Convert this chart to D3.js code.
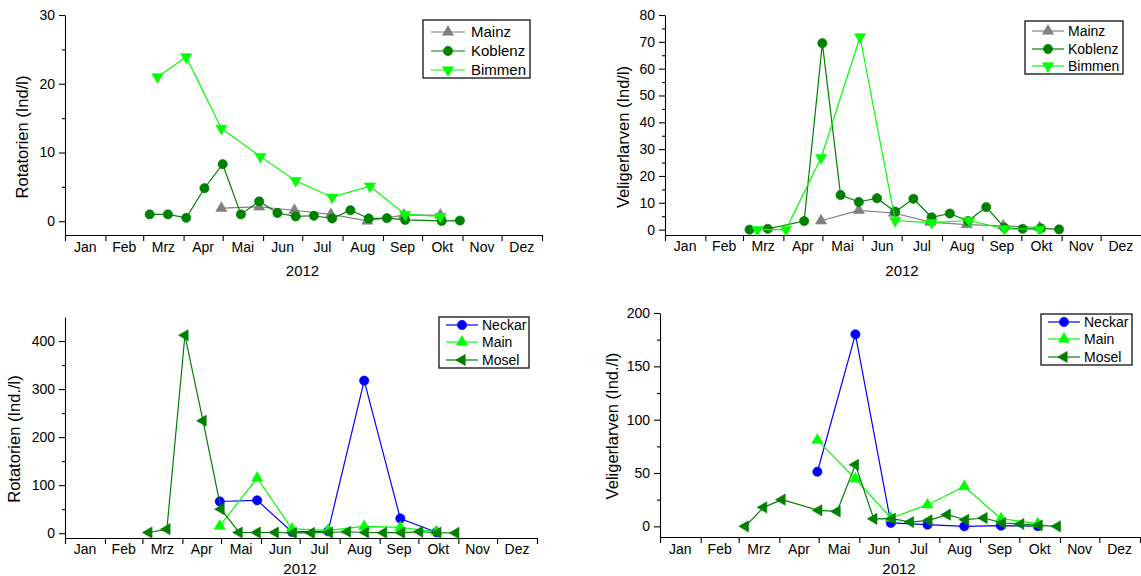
<!doctype html>
<html>
<head>
<meta charset="utf-8">
<script src="https://d3js.org/d3.v7.min.js"></script>
<style>
  body { margin: 0; background: #fff; }
  svg text { font-family: "Liberation Sans", Arial, sans-serif; fill: #000; }
</style>
</head>
<body>
<div id="chart"></div>
<script>
// ---- data ----
var monthLabels = ["Jan", "Feb", "Mrz", "Apr", "Mai", "Jun", "Jul", "Aug", "Sep", "Okt", "Nov", "Dez"];
var yearLabel = "2012";

// Rhein stations
var mainzDates = ["2012-04-30", "2012-05-29", "2012-06-25", "2012-07-23", "2012-08-20", "2012-09-17", "2012-10-15"];
var mainzRotatorien = [1.9, 2.1, 1.6, 1.0, 0.05, 0.9, 0.9];
var mainzVeliger = [3.3, 7.2, 6.2, 2.8, 1.9, 1.4, 0.8];

var koblenzRotDates = ["2012-03-06", "2012-03-20", "2012-04-03", "2012-04-17", "2012-05-01", "2012-05-15", "2012-05-29",
  "2012-06-12", "2012-06-26", "2012-07-10", "2012-07-24", "2012-08-07", "2012-08-21", "2012-09-04", "2012-09-18",
  "2012-10-16", "2012-10-30"];
var koblenzRotatorien = [1.0, 1.0, 0.5, 4.8, 8.3, 1.0, 2.9, 1.2, 0.7, 0.8, 0.4, 1.6, 0.4, 0.45, 0.2, 0.05, 0.1];

var koblenzVelDates = ["2012-03-06", "2012-03-20", "2012-04-17", "2012-05-01", "2012-05-15", "2012-05-29", "2012-06-12",
  "2012-06-26", "2012-07-10", "2012-07-24", "2012-08-07", "2012-08-21", "2012-09-04", "2012-09-18", "2012-10-02",
  "2012-10-16", "2012-10-30"];
var koblenzVeliger = [0.0, 0.3, 3.2, 69.5, 12.9, 10.3, 11.7, 6.7, 11.5, 4.6, 6.0, 3.2, 8.4, 0.7, 0.3, 0.5, 0.1];

var bimmenDates = ["2012-03-12", "2012-04-03", "2012-04-30", "2012-05-30", "2012-06-26", "2012-07-24", "2012-08-22",
  "2012-09-18", "2012-10-15"];
var bimmenRotatorien = [21.0, 23.9, 13.5, 9.4, 5.9, 3.5, 5.1, 1.0, 0.7];
var bimmenVeliger = [0.0, 0.0, 26.8, 71.8, 3.3, 2.6, 3.4, 0.3, 0.1];

// tributaries
var neckarDates = ["2012-04-30", "2012-05-29", "2012-06-25", "2012-07-23", "2012-08-20", "2012-09-17", "2012-10-15"];
var neckarRotatorien = [66, 68.5, 2.7, 4, 317.5, 30.6, 2];
var neckarVeliger = [51.2, 180, 3.2, 1.6, 0, 0.6, 0.2];
var mainRotatorien = [15, 115, 9, 6, 14, 12, 3];
var mainVeliger = [80.8, 44.6, 7.8, 20.3, 37.3, 7.2, 2.5];

var moselRotDates = ["2012-03-06", "2012-03-20", "2012-04-03", "2012-04-17", "2012-05-01", "2012-05-15", "2012-05-29",
  "2012-06-12", "2012-06-26", "2012-07-10", "2012-07-24", "2012-08-07", "2012-08-21", "2012-09-04", "2012-09-18",
  "2012-10-02", "2012-10-16", "2012-10-30"];
var moselRotatorien = [1.4, 8.3, 412, 234, 50, 1.5, 1.5, 1.5, 0.5, 0.5, 1.5, 3, 1.5, 1, 1, 3, 1, 0.5];

var moselVelDates = ["2012-03-06", "2012-03-20", "2012-04-03", "2012-05-01", "2012-05-15", "2012-05-29", "2012-06-12",
  "2012-06-26", "2012-07-10", "2012-07-24", "2012-08-07", "2012-08-21", "2012-09-04", "2012-09-18", "2012-10-02",
  "2012-10-16", "2012-10-30"];
var moselVeliger = [0, 17.8, 25, 15, 14, 57.7, 7, 7.2, 4, 5.6, 10.9, 6.2, 7.8, 3.1, 2.2, 0.9, 0];

// ---- styles ----
var styles = {
  Mainz:   { color: "#808080", shape: "up" },
  Koblenz: { color: "#008000", shape: "circle" },
  Bimmen:  { color: "#00ff00", shape: "down" },
  Neckar:  { color: "#0000ff", shape: "circle" },
  Main:    { color: "#00ff00", shape: "up" },
  Mosel:   { color: "#008000", shape: "left" }
};

var parse = d3.timeParse("%Y-%m-%d");
function zip(dates, vals) {
  return dates.map(function(d, i) { return { date: parse(d), value: vals[i] }; });
}

// ---- panel layout ----
var panels = [
  { x0: 65, x1: 542, y0: 15, y1: 235, domain: [-2, 30], major: [0, 10, 20, 30], minor: [5, 15, 25],
    title: "Rotatorien (Ind/l)", titleX: 22, titleY: 137, monthY: 247, yearY: 271,
    legend: { x: 423, y: 20, w: 107, h: 58, rows: [32, 51, 70], fs: 15, lx: 8, ll: 34, tx: 40 },
    series: [["Mainz", zip(mainzDates, mainzRotatorien)], ["Koblenz", zip(koblenzRotDates, koblenzRotatorien)], ["Bimmen", zip(bimmenDates, bimmenRotatorien)]] },
  { x0: 665, x1: 1141, y0: 15, y1: 235, domain: [-2, 80], major: d3.range(0, 81, 10), minor: d3.range(5, 80, 10),
    title: "Veligerlarven (Ind/l)", titleX: 623, titleY: 137, monthY: 246, yearY: 271,
    legend: { x: 1025, y: 21, w: 98, h: 53, rows: [31, 49, 66], fs: 14, lx: 7, ll: 32, tx: 36 },
    series: [["Mainz", zip(mainzDates, mainzVeliger)], ["Koblenz", zip(koblenzVelDates, koblenzVeliger)], ["Bimmen", zip(bimmenDates, bimmenVeliger)]] },
  { x0: 65, x1: 537, y0: 317, y1: 538, domain: [-10, 450], major: [0, 100, 200, 300, 400], minor: [50, 150, 250, 350],
    title: "Rotatorien (Ind./l)", titleX: 14, titleY: 439, monthY: 549, yearY: 569,
    legend: { x: 439, y: 317, w: 90, h: 51, rows: [325, 342, 360], fs: 14, lx: 7, ll: 32, tx: 36 },
    series: [["Neckar", zip(neckarDates, neckarRotatorien)], ["Main", zip(neckarDates, mainRotatorien)], ["Mosel", zip(moselRotDates, moselRotatorien)]] },
  { x0: 660, x1: 1140, y0: 313, y1: 537, domain: [-10, 200], major: [0, 50, 100, 150, 200], minor: [25, 75, 125, 175],
    title: "Veligerlarven (Ind./l)", titleX: 612, titleY: 426, monthY: 549, yearY: 569,
    legend: { x: 1041, y: 314, w: 91, h: 51, rows: [322, 339, 357], fs: 14, lx: 7, ll: 32, tx: 36 },
    series: [["Neckar", zip(neckarDates, neckarVeliger)], ["Main", zip(neckarDates, mainVeliger)], ["Mosel", zip(moselVelDates, moselVeliger)]] }
];

var svg = d3.select("#chart").append("svg")
  .attr("width", 1141).attr("height", 576);

var yearStart = new Date(2012, 0, 1), yearEnd = new Date(2013, 0, 1);

function marker(sel, name) {
  var st = styles[name];
  var type = st.shape === "circle" ? d3.symbolCircle : d3.symbolTriangle;
  var size = st.shape === "circle" ? 68 : 54;
  var rot = { circle: 0, up: 0, down: 180, left: -90 }[st.shape];
  sel.append("path")
    .attr("d", d3.symbol().type(type).size(size))
    .attr("transform", "rotate(" + rot + ")")
    .attr("fill", st.color)
    .attr("stroke", st.color)
    .attr("stroke-width", 0.6);
}

panels.forEach(function(p) {
  var g = svg.append("g");
  var x = d3.scaleTime().domain([yearStart, yearEnd]).range([p.x0, p.x1]);
  var y = d3.scaleLinear().domain(p.domain).range([p.y1, p.y0]);

  // x axis: month boundary ticks
  g.append("g")
    .attr("transform", "translate(0," + p.y1 + ")")
    .call(d3.axisBottom(x).tickValues(d3.timeMonth.range(yearStart, d3.timeDay.offset(yearEnd, 1)))
      .tickFormat("").tickSize(6).tickSizeOuter(0))
    .call(function(a) { a.selectAll("line, path").attr("stroke", "#000").attr("stroke-width", 1.1); });

  // month labels in the middle of each month
  var mids = d3.timeMonth.range(yearStart, yearEnd).map(function(m) {
    return new Date((+m + +d3.timeMonth.offset(m, 1)) / 2);
  });
  g.selectAll(".mlab").data(mids).enter().append("text")
    .attr("x", function(d) { return x(d); })
    .attr("y", p.monthY)
    .attr("dy", "0.35em")
    .attr("text-anchor", "middle")
    .style("font-size", "14px")
    .text(function(d, i) { return monthLabels[i]; });

  g.append("text")
    .attr("x", (p.x0 + p.x1) / 2 - 1)
    .attr("y", p.yearY)
    .attr("dy", "0.35em")
    .attr("text-anchor", "middle")
    .style("font-size", "15px")
    .text(yearLabel);

  // y axis
  g.append("g")
    .attr("transform", "translate(" + p.x0 + ",0)")
    .call(d3.axisLeft(y).tickValues(p.minor).tickFormat("").tickSize(3).tickSizeOuter(0))
    .call(function(a) { a.selectAll("line, path").attr("stroke", "#000").attr("stroke-width", 1.1); });
  g.append("g")
    .attr("transform", "translate(" + p.x0 + ",0)")
    .call(d3.axisLeft(y).tickValues(p.major).tickSize(6).tickPadding(4).tickSizeOuter(0))
    .call(function(a) {
      a.select(".domain").remove();
      a.selectAll("line").attr("stroke", "#000").attr("stroke-width", 1.1);
      a.selectAll("text").style("font-size", "14px").attr("fill", "#000")
        .style("font-family", "'Liberation Sans', Arial, sans-serif");
    });

  g.append("text")
    .attr("transform", "translate(" + p.titleX + "," + p.titleY + ") rotate(-90)")
    .attr("dy", "0.35em")
    .attr("text-anchor", "middle")
    .style("font-size", "16.5px")
    .text(p.title);

  // series
  p.series.forEach(function(s) {
    var name = s[0], pts = s[1], st = styles[name];
    g.append("path")
      .datum(pts)
      .attr("fill", "none")
      .attr("stroke", st.color)
      .attr("stroke-width", 1.2)
      .attr("d", d3.line().x(function(d) { return x(d.date); }).y(function(d) { return y(d.value); }));
    g.selectAll(null).data(pts).enter().append("g")
      .attr("transform", function(d) { return "translate(" + x(d.date) + "," + y(d.value) + ")"; })
      .each(function() { marker(d3.select(this), name); });
  });

  // legend
  var L = p.legend;
  var lg = g.append("g");
  lg.append("rect")
    .attr("x", L.x).attr("y", L.y).attr("width", L.w).attr("height", L.h)
    .attr("fill", "#fff").attr("stroke", "#222").attr("stroke-width", 1.4);
  p.series.forEach(function(s, i) {
    var name = s[0], st = styles[name];
    var row = lg.append("g").attr("transform", "translate(" + (L.x + L.lx) + "," + L.rows[i] + ")");
    row.append("line").attr("x1", 0).attr("x2", L.ll).attr("y1", 0).attr("y2", 0)
      .attr("stroke", st.color).attr("stroke-width", 1.2);
    marker(row.append("g").attr("transform", "translate(" + (L.ll / 2) + ",0)"), name);
    row.append("text").attr("x", L.tx).attr("dy", "0.35em")
      .style("font-size", L.fs + "px").text(name);
  });
});
</script>
</body>
</html>
